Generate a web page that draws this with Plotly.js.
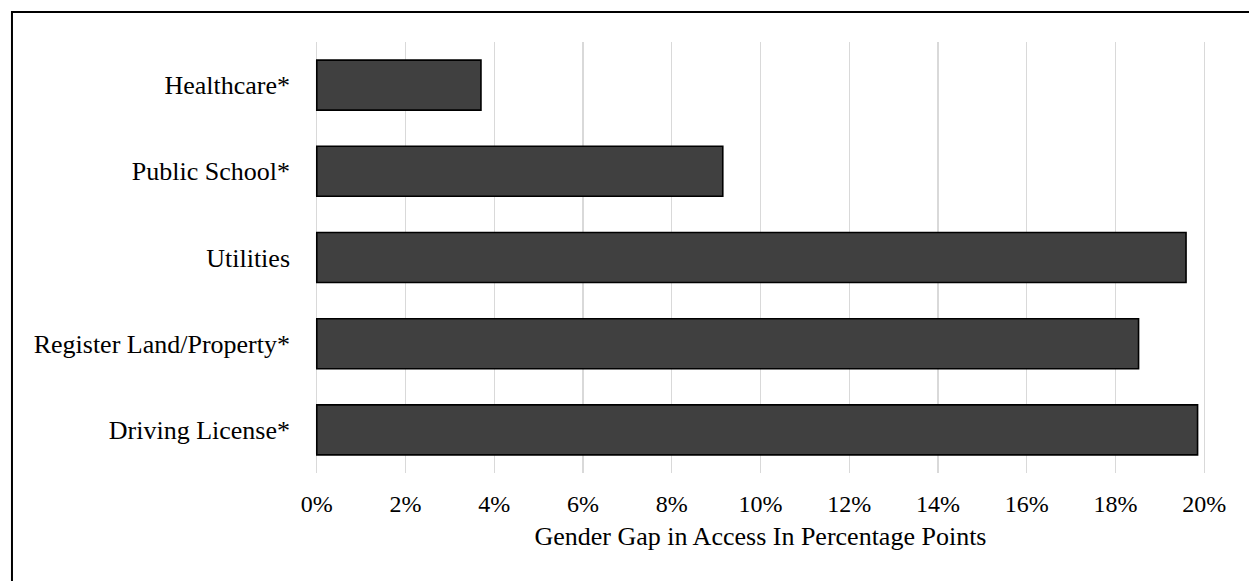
<!DOCTYPE html>
<html>
<head>
<meta charset="utf-8">
<script src="https://cdn.plot.ly/plotly-3.0.1.min.js"></script>
<style>
html, body { margin: 0; padding: 0; background: #ffffff; }
#chart { width: 1249px; height: 581px; }
</style>
</head>
<body>
<div id="chart"></div>
<script>
var categories = ["Healthcare*", "Public School*", "Utilities", "Register Land/Property*", "Driving License*"];
var gapValues = [0.037, 0.0915, 0.1959, 0.1852, 0.1985];
var tickValues = [0, 0.02, 0.04, 0.06, 0.08, 0.10, 0.12, 0.14, 0.16, 0.18, 0.20];
var tickLabels = ["0%", "2%", "4%", "6%", "8%", "10%", "12%", "14%", "16%", "18%", "20%"];
var xTitle = "Gender Gap in Access In Percentage Points";

var serif = "Liberation Serif";

var trace = {
  type: "bar",
  orientation: "h",
  y: categories,
  x: gapValues,
  width: 0.58,
  marker: { color: "#404040", line: { color: "#000000", width: 1.6 } },
  hoverinfo: "skip"
};

var layout = {
  width: 1249,
  height: 581,
  margin: { l: 315, r: 43, t: 42, b: 108, pad: 0 },
  paper_bgcolor: "#ffffff",
  plot_bgcolor: "#ffffff",
  showlegend: false,
  font: { family: serif, color: "#000000", size: 24 },
  xaxis: {
    range: [-0.0004, 0.2004],
    tickvals: tickValues,
    ticktext: tickLabels,
    showgrid: true,
    gridcolor: "#d9d9d9",
    gridwidth: 1.3,
    zeroline: false,
    showline: false,
    ticks: "",
    ticklabelstandoff: 14,
    tickfont: { size: 24, family: serif, color: "#000000" },
    title: { text: xTitle, standoff: 10, font: { size: 26, family: serif, color: "#000000" } },
    fixedrange: true
  },
  yaxis: {
    autorange: "reversed",
    type: "category",
    showgrid: false,
    zeroline: false,
    showline: false,
    ticks: "",
    ticklabelstandoff: 24,
    tickfont: { size: 26, family: serif, color: "#000000" },
    fixedrange: true
  },
  shapes: [{
    type: "rect",
    xref: "paper", yref: "paper",
    x0: -0.3401, x1: 1.0606,
    y0: -0.2947, y1: 1.0696,
    line: { color: "#000000", width: 2 },
    fillcolor: "rgba(0,0,0,0)",
    layer: "above"
  }]
};

Plotly.newPlot("chart", [trace], layout, { displayModeBar: false, staticPlot: true });
</script>
</body>
</html>
